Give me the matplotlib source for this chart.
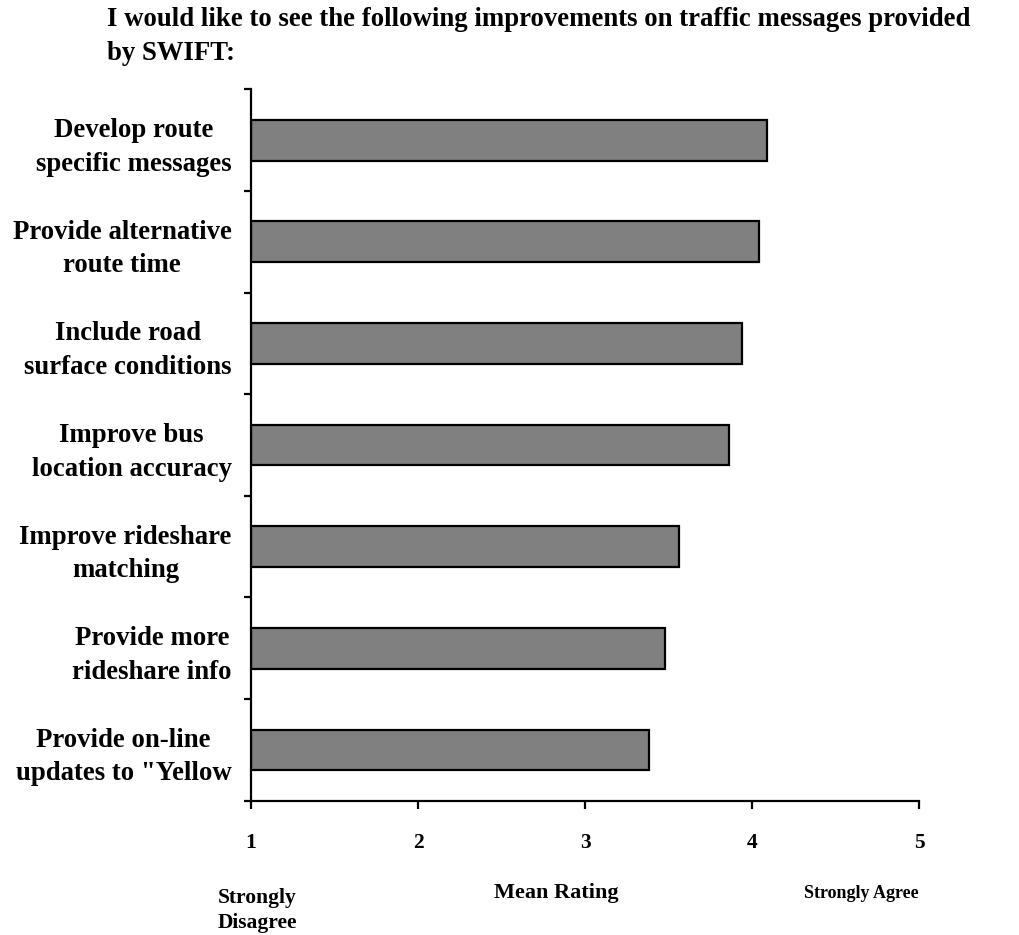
import matplotlib
matplotlib.use('Agg')
import matplotlib.pyplot as plt
import numpy as np

# survey items, top to bottom as shown
categories = [
    'Develop route\nspecific messages',
    'Provide alternative\nroute time',
    'Include road\nsurface conditions',
    'Improve bus\nlocation accuracy',
    'Improve rideshare\nmatching',
    'Provide more\nrideshare info',
    'Provide on-line\nupdates to "Yellow',
]
mean_rating = [4.09, 4.04, 3.94, 3.86, 3.56, 3.48, 3.38]
x_ticks = [1, 2, 3, 4, 5]
title = ('I would like to see the following improvements on traffic messages provided\n'
         'by SWIFT:')

plt.rcParams['font.family'] = ['Liberation Serif', 'DejaVu Serif']
plt.rcParams['font.weight'] = 'bold'

W, H = 1019, 935
fig = plt.figure(figsize=(W / 100, H / 100), dpi=100)
ax = fig.add_axes([251 / W, 1 - 800.7 / H, (919.3 - 251) / W, (800.7 - 89.4) / H])

ypos = np.arange(len(categories))[::-1]
ax.barh(ypos, [r - 1 for r in mean_rating], left=1, height=0.4,
        color='#808080', edgecolor='black', linewidth=1.6, zorder=2)

ax.set_xlim(1, 5)
ax.set_ylim(-0.5, len(categories) - 0.5)
ax.spines['top'].set_visible(False)
ax.spines['right'].set_visible(False)
ax.spines['left'].set_linewidth(1.6)
ax.spines['bottom'].set_linewidth(1.6)

ax.set_xticks(x_ticks)
ax.set_xticklabels([str(t) for t in x_ticks], fontsize=15.5, fontweight='bold')
ax.tick_params(axis='x', direction='out', length=6, width=1.6, pad=17)

ax.set_yticks(ypos)
ax.set_yticklabels(categories, fontsize=19.3, fontweight='bold')
for lab in ax.get_yticklabels():
    lab.set_multialignment('center')
    lab.set_linespacing(1.45)
ax.set_yticks(np.arange(-0.5, len(categories)), minor=True)
ax.tick_params(axis='y', which='major', length=0, pad=14)
ax.tick_params(axis='y', which='minor', direction='out', length=5, width=1.6)

fig.text(107 / W, 1 - 60.5 / H, title, ha='left', va='baseline',
         fontsize=19.3, fontweight='bold', linespacing=1.5)
fig.text(556 / W, 1 - 898 / H, 'Mean Rating', ha='center', va='baseline',
         fontsize=16, fontweight='bold')
fig.text(861 / W, 1 - 898 / H, 'Strongly Agree', ha='center', va='baseline',
         fontsize=13, fontweight='bold')
fig.text(257 / W, 1 - 928 / H, 'Strongly\nDisagree', ha='center', va='baseline',
         fontsize=15.5, fontweight='bold', linespacing=1.35)

fig.savefig('out.png', dpi=100)
